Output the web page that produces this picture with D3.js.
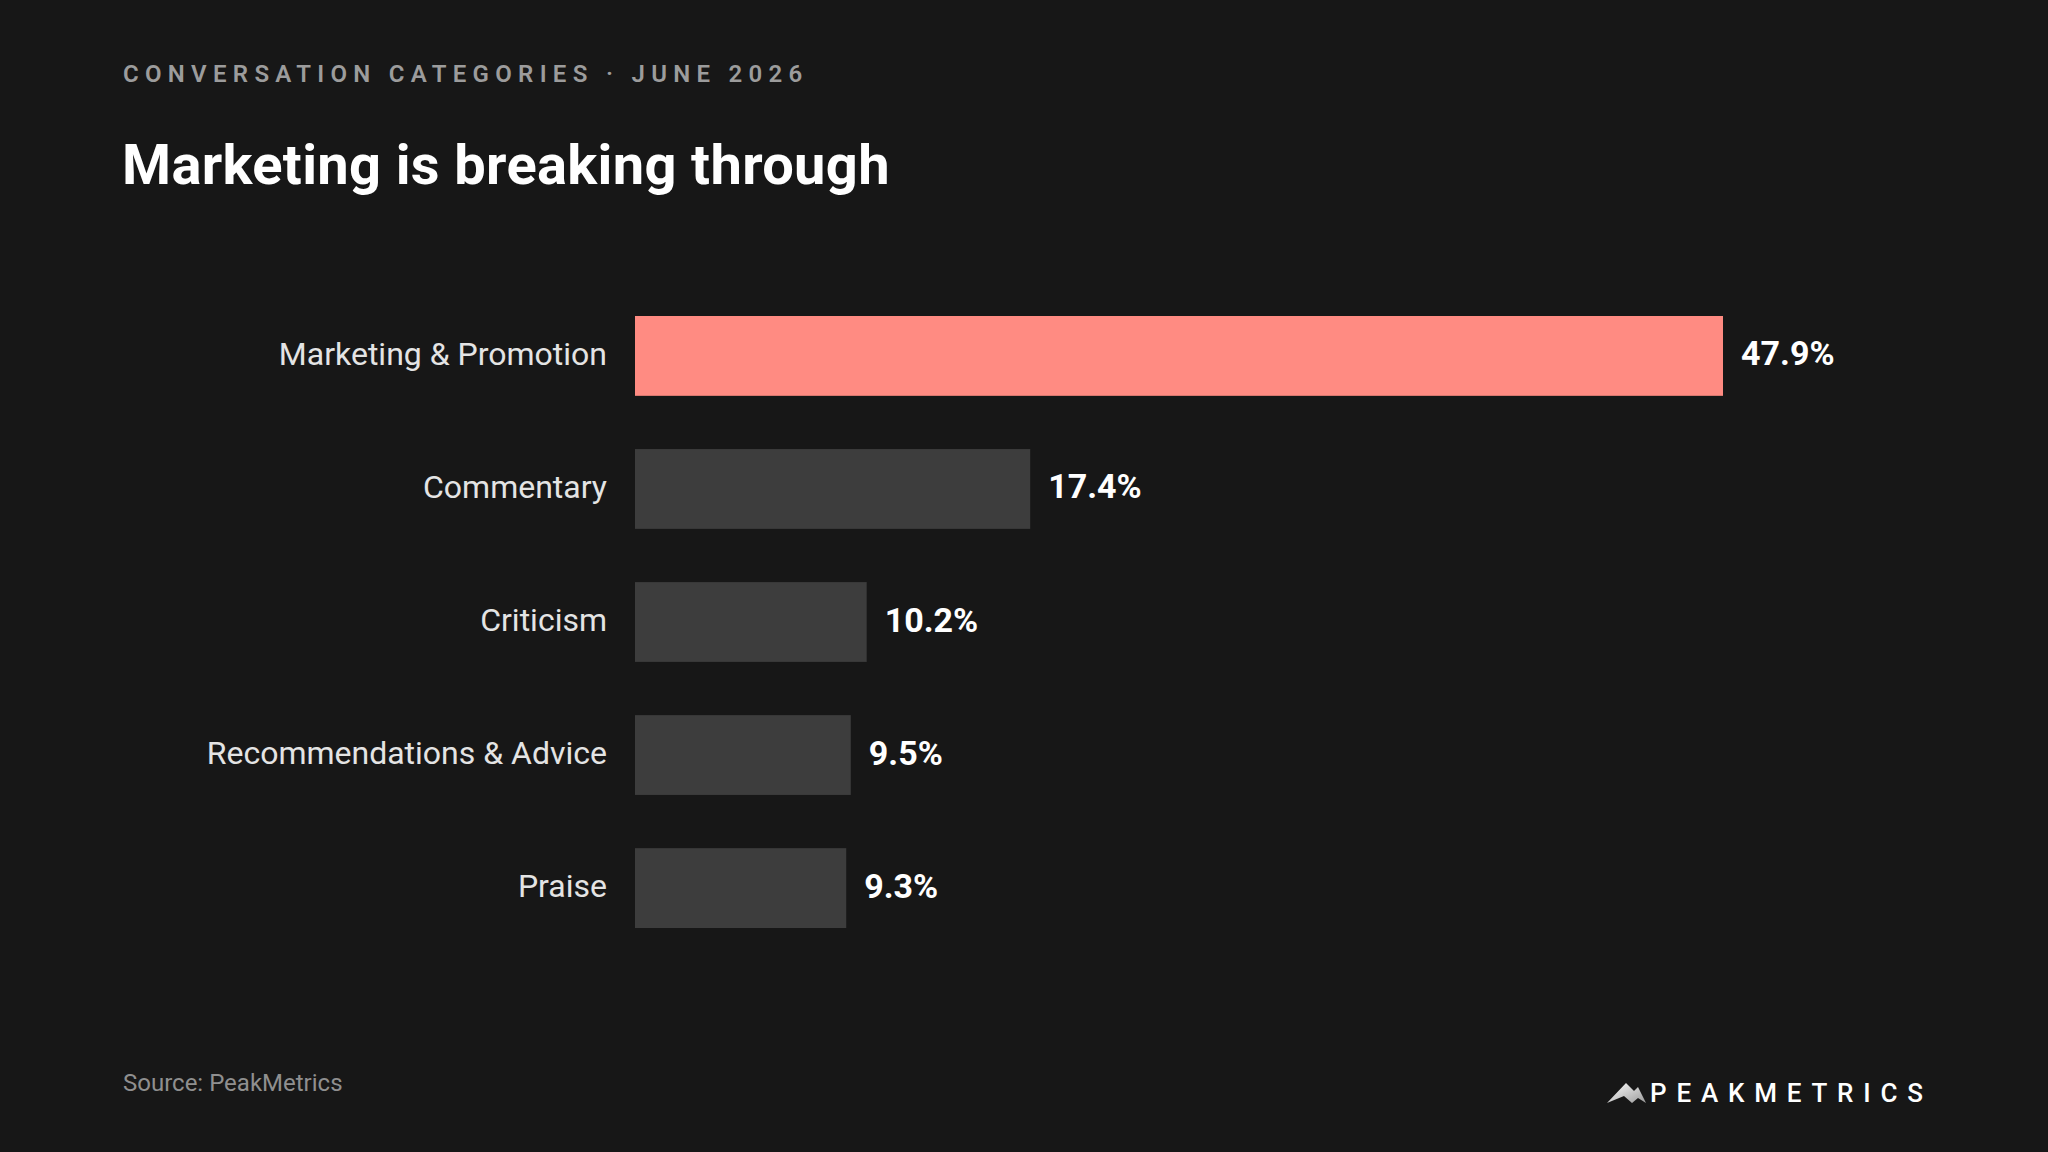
<!DOCTYPE html>
<html>
<head>
<meta charset="utf-8">
<script src="https://cdn.jsdelivr.net/npm/d3@7"></script>
<style>
  html, body { margin: 0; padding: 0; background: #171717; }
  svg { display: block; }
</style>
</head>
<body>
<svg width="2048" height="1152"></svg>
<script>
// data
const categories = ["Marketing & Promotion", "Commentary", "Criticism", "Recommendations & Advice", "Praise"];
const shares = [47.9, 17.4, 10.2, 9.5, 9.3];
const highlight = "Marketing & Promotion";

const data = categories.map(function(c, i) { return { key: c, value: shares[i] }; });

let svg = d3.select("svg");
let W = 2048, H = 1152;

svg.append("rect").attr("width", W).attr("height", H).attr("fill", "#171717");

let font = "Roboto, 'Noto Sans', sans-serif";

// header
svg.append("text")
  .attr("x", 123).attr("y", 82)
  .attr("font-family", font)
  .attr("font-weight", 600)
  .attr("font-size", 24)
  .attr("letter-spacing", 6.3)
  .attr("fill", "#9c9c9c")
  .text("CONVERSATION CATEGORIES · JUNE 2026");

svg.append("text")
  .attr("x", 122).attr("y", 184)
  .attr("font-family", font)
  .attr("font-weight", 700)
  .attr("font-size", 56)
  .attr("letter-spacing", 0.35)
  .attr("fill", "#ffffff")
  .text("Marketing is breaking through");

// scales
let xScale = d3.scaleLinear()
  .domain([0, d3.max(shares)])
  .range([635, 1723]);

let yScale = d3.scaleBand()
  .domain(categories)
  .range([316, 928])
  .paddingInner(0.4)
  .paddingOuter(0);

let plot = svg.append("g").attr("id", "plot");

plot.selectAll("rect.bar")
  .data(data)
  .enter().append("rect")
  .attr("class", "bar")
  .attr("x", xScale(0))
  .attr("y", function(d) { return yScale(d.key); })
  .attr("width", function(d) { return xScale(d.value) - xScale(0); })
  .attr("height", yScale.bandwidth())
  .attr("fill", function(d) { return d.key === highlight ? "#ff8b82" : "#3d3d3d"; });

// category labels
plot.selectAll("text.cat")
  .data(data)
  .enter().append("text")
  .attr("class", "cat")
  .attr("x", xScale(0) - 28)
  .attr("y", function(d) { return yScale(d.key) + yScale.bandwidth() / 2; })
  .attr("dy", "0.28em")
  .attr("text-anchor", "end")
  .attr("font-family", font)
  .attr("font-size", 32)
  .attr("fill", "#e4e4e4")
  .text(function(d) { return d.key; });

// value labels
plot.selectAll("text.val")
  .data(data)
  .enter().append("text")
  .attr("class", "val")
  .attr("x", function(d) { return xScale(d.value) + 18; })
  .attr("y", function(d) { return yScale(d.key) + yScale.bandwidth() / 2; })
  .attr("dy", "0.28em")
  .attr("font-family", font)
  .attr("font-weight", 700)
  .attr("font-size", 34)
  .attr("fill", "#ffffff")
  .text(function(d) { return d.value.toFixed(1) + "%"; });

// footer
svg.append("text")
  .attr("x", 123).attr("y", 1091)
  .attr("font-family", font)
  .attr("font-size", 24)
  .attr("fill", "#8f8f8f")
  .text("Source: PeakMetrics");

// logo
let defs = svg.append("defs");
let grad = defs.append("linearGradient").attr("id", "peak").attr("x1", 0).attr("y1", 0).attr("x2", 1).attr("y2", 1);
grad.append("stop").attr("offset", 0).attr("stop-color", "#ffffff");
grad.append("stop").attr("offset", 1).attr("stop-color", "#9a9a9a");

let logo = svg.append("g").attr("transform", "translate(1607,1083)");
logo.append("path")
  .attr("d", "M0,20 L19,0 L27,8 L31,4 L39,20 L31,15 L25,20 L17,13 Z")
  .attr("fill", "url(#peak)");

svg.append("text")
  .attr("x", 1650).attr("y", 1102)
  .attr("font-family", font)
  .attr("font-weight", 500)
  .attr("font-size", 26)
  .attr("letter-spacing", 9.8)
  .attr("fill", "#ffffff")
  .text("PEAKMETRICS");
</script>
</body>
</html>
